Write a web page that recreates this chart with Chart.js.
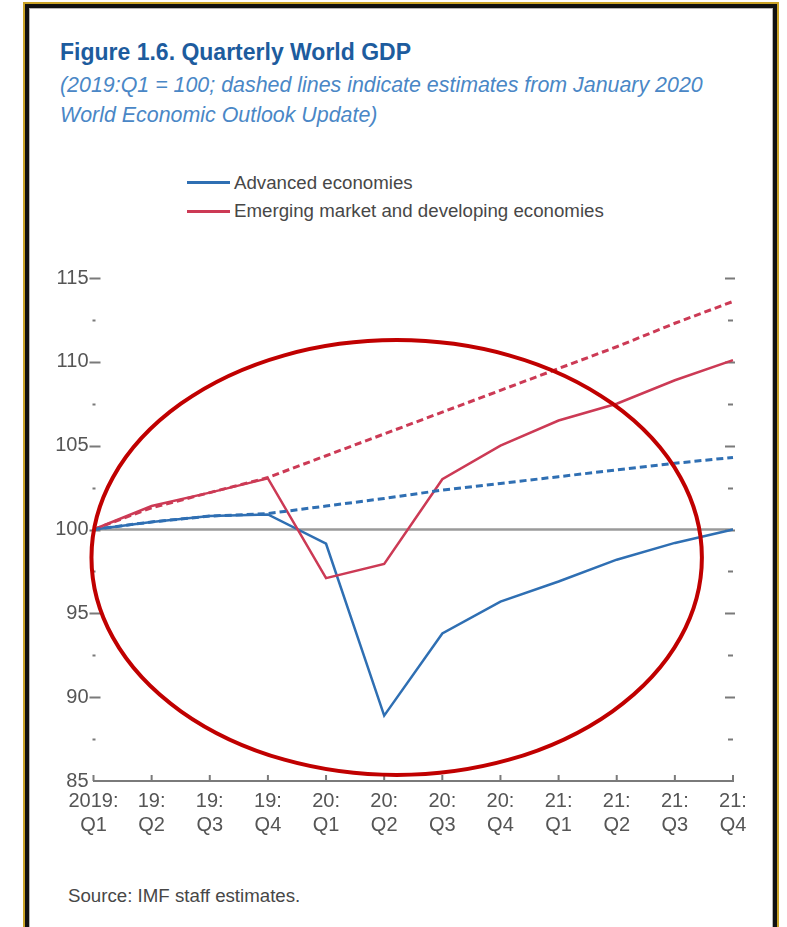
<!DOCTYPE html>
<html>
<head>
<meta charset="utf-8">
<title>Quarterly World GDP</title>
<script src="https://cdn.jsdelivr.net/npm/chart.js@4.4.1/dist/chart.umd.min.js"></script>
<style>
  html, body { margin: 0; padding: 0; background: #fff; width: 787px; height: 927px; overflow: hidden; }
  body { position: relative; font-family: 'Liberation Sans', Arial, sans-serif; }
  .frame { position: absolute; left: 23px; top: 2px; width: 752px; height: 980px; border: 2px solid #c9a227; }
  .frame-inner { position: absolute; left: 0; top: 0; right: 0; bottom: 0; border: 4px solid #111; box-shadow: inset 0 0 0 1px #b5b5b5; }
  .txt { position: absolute; white-space: nowrap; }
  .title { left: 60px; top: 38px; font-size: 23px; line-height: 28px; font-weight: bold; color: #1d5c9e; }
  .sub { left: 60px; font-size: 21.4px; line-height: 30px; font-style: italic; color: #4a87c6; }
  .leg { left: 234px; font-size: 18.7px; line-height: 22px; color: #474747; }
  .swatch { position: absolute; left: 187px; width: 43px; height: 3px; }
  .source { left: 68px; top: 885px; font-size: 18.7px; line-height: 22px; color: #474747; }
  #wrap { position: absolute; left: 0; top: 240px; width: 787px; height: 640px; }
</style>
</head>
<body>
<div class="frame"><div class="frame-inner"></div></div>

<div class="txt title">Figure 1.6. Quarterly World GDP</div>
<div class="txt sub" style="top:70px">(2019:Q1 = 100; dashed lines indicate estimates from January 2020</div>
<div class="txt sub" style="top:100px">World Economic Outlook Update)</div>

<div class="swatch" style="top:181px; background:#2f6fb3"></div>
<div class="txt leg" style="top:172px">Advanced economies</div>
<div class="swatch" style="top:210px; background:#cc3a55"></div>
<div class="txt leg" style="top:200px">Emerging market and developing economies</div>

<div id="wrap"><canvas id="gdp" width="787" height="640"></canvas></div>

<div class="txt source">Source: IMF staff estimates.</div>

<script>
// quarters, 2019:Q1 .. 2021:Q4
const QUARTERS = ['2019:Q1', '19:Q2', '19:Q3', '19:Q4', '20:Q1', '20:Q2', '20:Q3', '20:Q4', '21:Q1', '21:Q2', '21:Q3', '21:Q4'];

// current projections (solid)
const ADVANCED = [100, 100.45, 100.8, 100.9, 99.15, 88.9, 93.8, 95.7, 96.9, 98.2, 99.2, 100.0];
const EMERGING = [100, 101.4, 102.2, 103.05, 97.1, 97.95, 103.0, 105.0, 106.5, 107.5, 108.9, 110.1];

// January 2020 WEO Update estimates (dashed)
const ADVANCED_JAN = [100, 100.45, 100.8, 100.95, 101.4, 101.85, 102.35, 102.75, 103.15, 103.55, 103.95, 104.3];
const EMERGING_JAN = [100, 101.3, 102.2, 103.1, 104.4, 105.7, 107.0, 108.3, 109.6, 110.9, 112.3, 113.6];

const Y_MIN = 85;
const Y_MAX = 115;
const BASELINE = 100;

// highlight ellipse, in data units (category index / index value)
const ELLIPSE = { cx: 5.215, cy: 98.33, rx: 5.25, ry: 12.97 };

const BLUE = '#2f6fb3';
const RED = '#cc3a55';
const FONT = "'Liberation Sans', Arial, sans-serif";

// where the plot area sits inside the canvas
const AREA = { left: 93.5, right: 733, top: 38, bottom: 541 };

const axisMarks = {
  id: 'axisMarks',
  beforeDatasetsDraw(chart) {
    const { ctx, chartArea: a, scales: { x, y } } = chart;
    ctx.save();

    // 100 reference line
    const yb = y.getPixelForValue(BASELINE);
    ctx.strokeStyle = '#9a9a9a';
    ctx.lineWidth = 2.5;
    ctx.beginPath();
    ctx.moveTo(a.left, yb);
    ctx.lineTo(a.right, yb);
    ctx.stroke();

    // y tick marks, both sides
    ctx.strokeStyle = '#7a7a7a';
    ctx.lineWidth = 2;
    y.ticks.forEach(t => {
      if (t.value === Y_MIN) return;
      const py = Math.round(y.getPixelForValue(t.value)) + 0.5;
      const major = t.value % 5 === 0;
      ctx.beginPath();
      if (major) {
        ctx.moveTo(a.left - 4, py); ctx.lineTo(a.left + 7, py);
        ctx.moveTo(a.right - 8, py); ctx.lineTo(a.right + 2, py);
      } else {
        ctx.moveTo(a.left - 1, py); ctx.lineTo(a.left + 2, py);
        ctx.moveTo(a.right - 5, py); ctx.lineTo(a.right, py);
      }
      ctx.stroke();
    });

    // x tick marks point up from the axis
    QUARTERS.forEach((q, i) => {
      const px = x.getPixelForValue(i);
      ctx.beginPath();
      ctx.moveTo(px, a.bottom);
      ctx.lineTo(px, a.bottom - 6);
      ctx.stroke();
    });
    ctx.restore();
  },
  afterDatasetsDraw(chart) {
    const { ctx, scales: { x, y } } = chart;
    const cx = x.getPixelForValue(ELLIPSE.cx);
    const cy = y.getPixelForValue(ELLIPSE.cy);
    const rx = x.getPixelForValue(ELLIPSE.cx + ELLIPSE.rx) - cx;
    const ry = y.getPixelForValue(ELLIPSE.cy - ELLIPSE.ry) - cy;
    ctx.save();
    ctx.strokeStyle = '#c00000';
    ctx.lineWidth = 4;
    ctx.beginPath();
    ctx.ellipse(cx, cy, rx, ry, 0, 0, Math.PI * 2);
    ctx.stroke();
    ctx.restore();
  }
};

const chart = new Chart(document.getElementById('gdp'), {
  type: 'line',
  data: {
    labels: QUARTERS,
    datasets: [
      { label: 'Advanced economies (Jan 2020 WEO)', data: ADVANCED_JAN, borderColor: BLUE, borderDash: [7, 4], borderWidth: 3 },
      { label: 'Emerging market and developing economies (Jan 2020 WEO)', data: EMERGING_JAN, borderColor: RED, borderDash: [7, 4], borderWidth: 3 },
      { label: 'Emerging market and developing economies', data: EMERGING, borderColor: RED, borderWidth: 2.5 },
      { label: 'Advanced economies', data: ADVANCED, borderColor: BLUE, borderWidth: 2.5 },
    ],
  },
  options: {
    responsive: false,
    animation: false,
    layout: { padding: { left: 50, right: 54, top: 30, bottom: 40 } },
    elements: {
      point: { radius: 0, hoverRadius: 0 },
      line: { tension: 0, borderCapStyle: 'butt', borderJoinStyle: 'miter' },
    },
    plugins: {
      legend: { display: false },
      tooltip: { enabled: false },
    },
    scales: {
      x: {
        offset: false,
        grid: { display: false, drawTicks: false },
        border: { display: true, color: '#7a7a7a', width: 2 },
        ticks: {
          padding: 8,
          color: '#555',
          autoSkip: false,
          maxRotation: 0,
          font: { family: FONT, size: 20, lineHeight: 1.2 },
          callback: function(value, index) {
            const parts = QUARTERS[index].split(':');
            return [parts[0] + ':', parts[1]];
          },
        },
      },
      y: {
        min: Y_MIN,
        max: Y_MAX,
        grid: { display: false, drawTicks: false },
        border: { display: false },
        ticks: {
          stepSize: 2.5,
          padding: 5,
          color: '#555',
          font: { family: FONT, size: 20 },
          callback: function(value) {
            return value % 5 === 0 ? value : '';
          },
        },
      },
    },
  },
  plugins: [axisMarks],
});

// nudge the padding so the plot area lands where it does in the figure
for (let k = 0; k < 3; k++) {
  const a = chart.chartArea;
  const p = chart.options.layout.padding;
  p.left += AREA.left - a.left;
  p.right += a.right - AREA.right;
  p.top += AREA.top - a.top;
  p.bottom += a.bottom - AREA.bottom;
  chart.update('none');
}
</script>
</body>
</html>
